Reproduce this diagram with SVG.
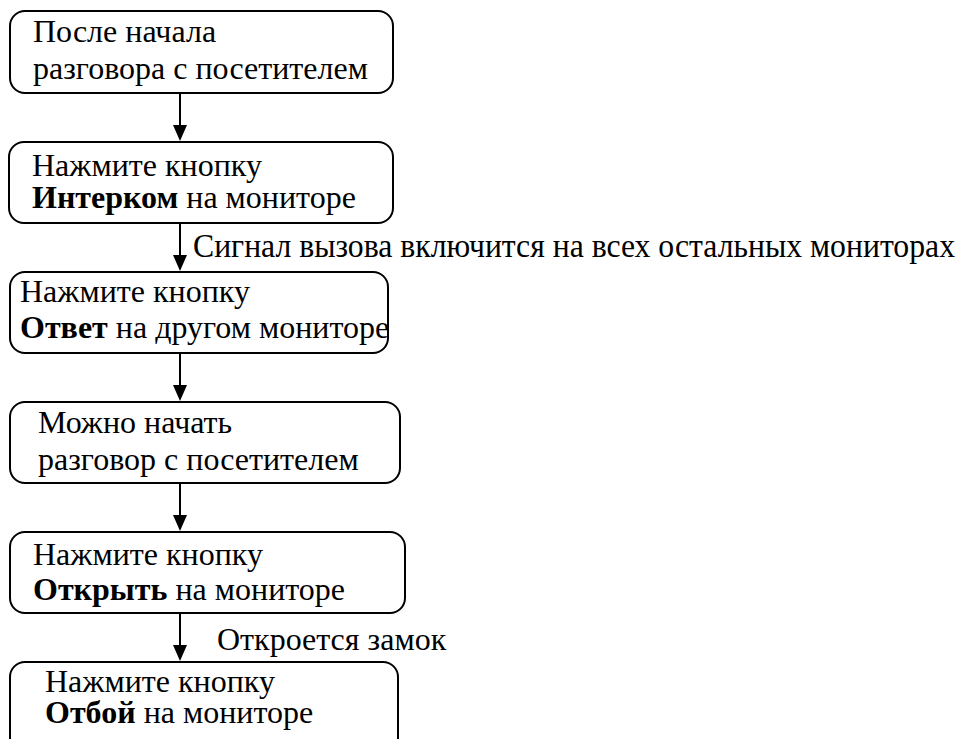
<svg xmlns="http://www.w3.org/2000/svg" width="964" height="739" viewBox="0 0 964 739" font-family="Liberation Serif, serif">
<defs>
<style>
.box{fill:#fff;stroke:#000;stroke-width:2}
.ln{stroke:#000;stroke-width:2;fill:none}
</style>
</defs>
<rect width="964" height="739" fill="#fff"/>
<g id="connectors">
<line class="ln" x1="180" y1="93" x2="180" y2="125"/><path d="M173,125 L187,125 L180,141 Z"/>
<line class="ln" x1="180" y1="223" x2="180" y2="255"/><path d="M173,255 L187,255 L180,271 Z"/>
<line class="ln" x1="180" y1="353" x2="180" y2="385"/><path d="M173,385 L187,385 L180,401 Z"/>
<line class="ln" x1="180" y1="483" x2="180" y2="515"/><path d="M173,515 L187,515 L180,531 Z"/>
<line class="ln" x1="180" y1="613" x2="180" y2="645"/><path d="M173,645 L187,645 L180,661 Z"/>
<text x="193" y="257" textLength="762" lengthAdjust="spacingAndGlyphs" style="font-family:'Liberation Serif',serif;font-size:33px">Сигнал вызова включится на всех остальных мониторах</text>
<text x="217" y="650" style="font-family:'Liberation Serif',serif;font-size:32px">Откроется замок</text>
</g>
<g id="n1">
<rect class="box" x="10" y="11" width="383" height="82" rx="15"/>
<text x="33" y="42" style="font-family:'Liberation Serif',serif;font-size:32px">После начала</text>
<text x="33" y="79" style="font-family:'Liberation Serif',serif;font-size:32px">разговора с посетителем</text>
</g>
<g id="n2">
<rect class="box" x="9" y="142" width="384" height="81" rx="15"/>
<text x="32" y="176" style="font-family:'Liberation Serif',serif;font-size:32px">Нажмите кнопку</text>
<text x="32" y="208" style="font-family:'Liberation Serif',serif;font-size:32px"><tspan font-weight="bold">Интерком</tspan> на мониторе</text>
</g>
<g id="n3">
<rect class="box" x="10" y="272" width="378" height="81" rx="15"/>
<text x="20" y="302" style="font-family:'Liberation Serif',serif;font-size:32px">Нажмите кнопку</text>
<text x="20" y="338" style="font-family:'Liberation Serif',serif;font-size:32px"><tspan font-weight="bold">Ответ</tspan> на другом мониторе</text>
</g>
<g id="n4">
<rect class="box" x="10" y="402" width="390" height="81" rx="15"/>
<text x="38" y="433" style="font-family:'Liberation Serif',serif;font-size:32px">Можно начать</text>
<text x="38" y="470" style="font-family:'Liberation Serif',serif;font-size:32px">разговор с посетителем</text>
</g>
<g id="n5">
<rect class="box" x="10" y="532" width="395" height="81" rx="15"/>
<text x="33" y="565" style="font-family:'Liberation Serif',serif;font-size:32px">Нажмите кнопку</text>
<text x="33" y="600" style="font-family:'Liberation Serif',serif;font-size:32px"><tspan font-weight="bold">Открыть</tspan> на мониторе</text>
</g>
<g id="n6">
<rect class="box" x="10" y="662" width="388" height="92" rx="15"/>
<text x="45" y="692" style="font-family:'Liberation Serif',serif;font-size:32px">Нажмите кнопку</text>
<text x="45" y="723" style="font-family:'Liberation Serif',serif;font-size:32px"><tspan font-weight="bold">Отбой</tspan> на мониторе</text>
</g>
</svg>
